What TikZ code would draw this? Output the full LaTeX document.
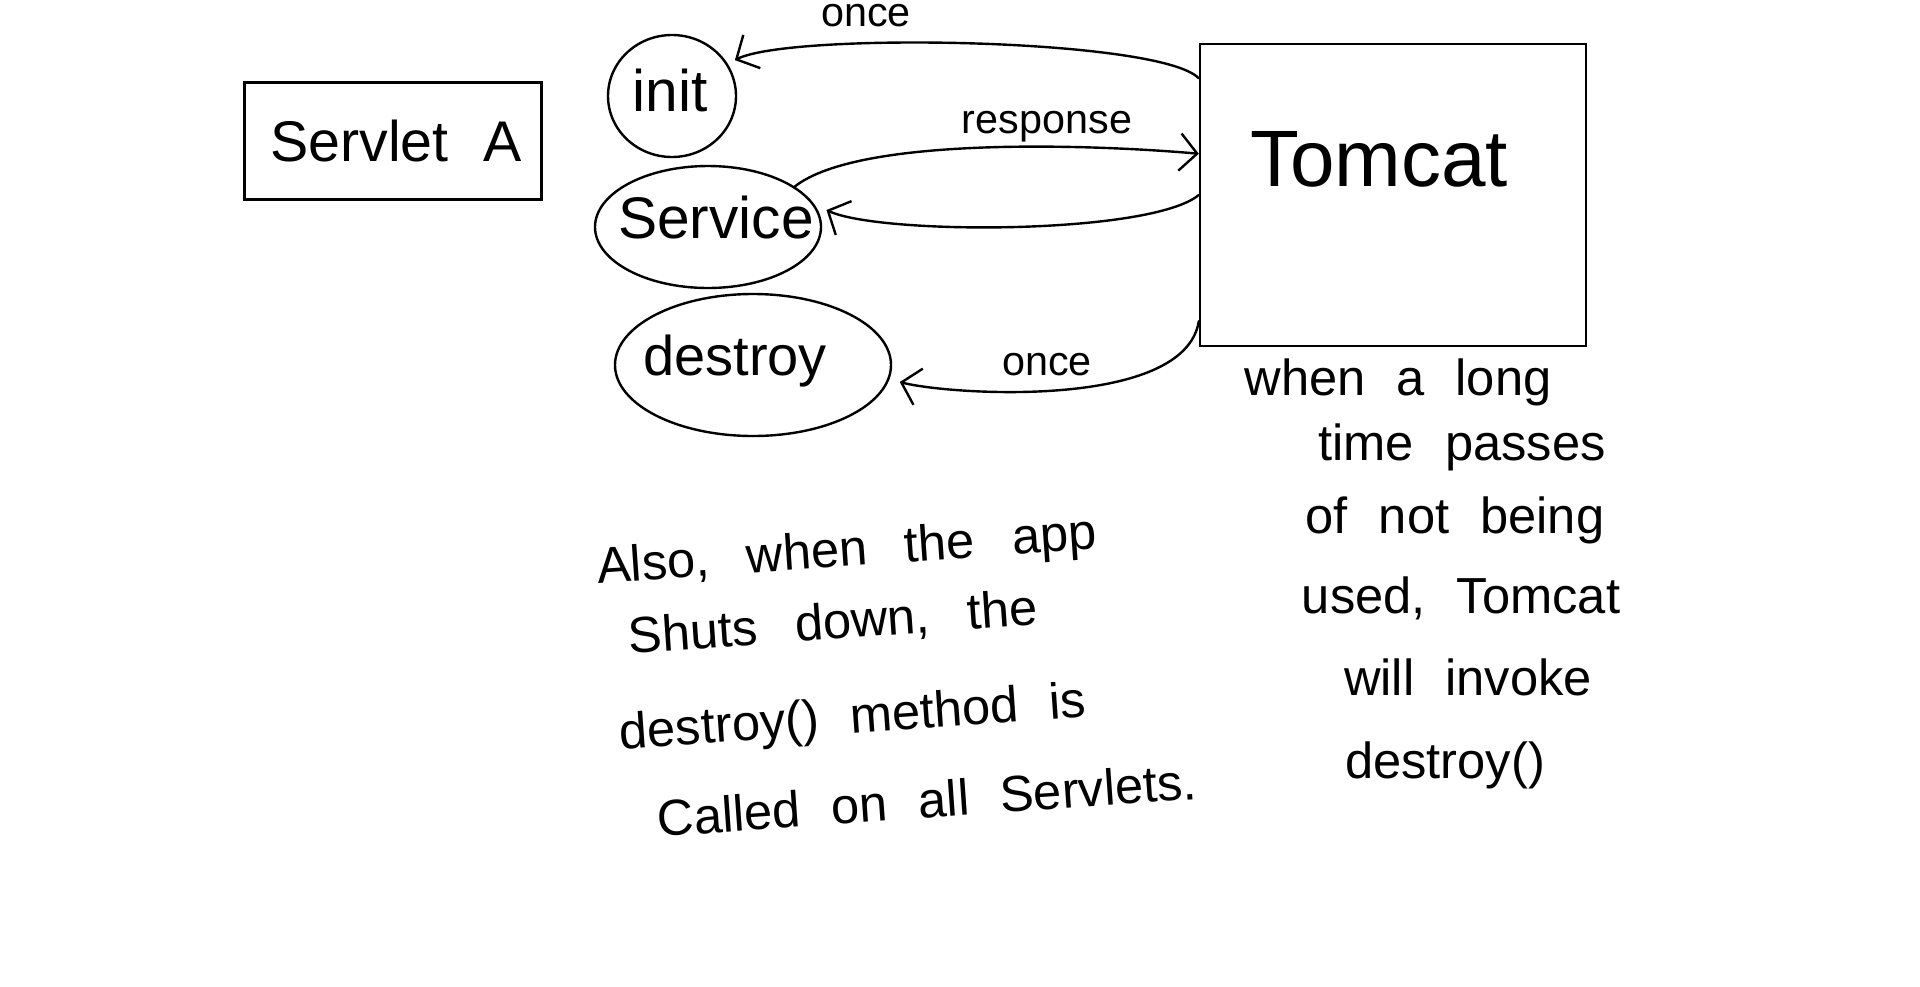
\documentclass[tikz,border=0pt]{standalone}
\usepackage{fontspec}
\setmainfont{Liberation Sans}
\newfontfamily\hand[WordSpace=2.2]{Liberation Sans}
\newcommand\wideskip{\hspace{28pt}}
\usetikzlibrary{shapes.geometric,arrows.meta}
\begin{document}
\begin{tikzpicture}[x=0.75pt,y=-0.75pt, line width=1.8pt,
  box/.style={draw, rectangle, inner sep=0pt},
  oval/.style={draw, ellipse, inner sep=0pt},
  txt/.style={inner sep=0pt, anchor=center},
  lbl/.style={txt, font=\hand\fontsize{31}{37}\selectfont},
  body/.style={txt, font=\hand\fontsize{38}{46}\selectfont},
  conn/.style={-{Straight Barb[length=13pt,width=28pt]}, line cap=round, line join=round}]
\useasboundingbox (0,0) rectangle (1920,986);

% boxes and ovals
\node[box, minimum width=222.75pt, minimum height=87.75pt] (servA) at (393,141) {};
\node[txt, font=\hand\fontsize{43}{50}\selectfont] (servAtxt) at (396,141) {Servlet A};

\node[box, minimum width=289.5pt, minimum height=226.5pt] (tomcat) at (1393,195) {};
\node[txt, font=\hand\fontsize{60}{70}\selectfont] (tomcattxt) at (1379,159) {Tomcat};

\node[oval, minimum width=96pt, minimum height=91.5pt] (init) at (672,96) {};
\node[txt, font=\hand\fontsize{44}{50}\selectfont] (inittxt) at (670,90) {init};

\node[oval, minimum width=169.5pt, minimum height=91.5pt] (service) at (708,227) {};
\node[txt, font=\hand\fontsize{44}{50}\selectfont] (servicetxt) at (716,218) {Service};

\node[oval, minimum width=207pt, minimum height=106.5pt] (destroy) at (753,365) {};
\node[txt, font=\hand\fontsize{42}{50}\selectfont] (destroytxt) at (735,361) {destroy};

% connectors
\draw[conn, shorten >=6pt] (tomcat.149) .. controls (1160,38) and (790,32) .. (init.30);
\draw[conn] (service.25) .. controls (860,135) and (1100,145) .. (tomcat.168);
\draw[conn, shorten >=10pt] (tomcat.180) .. controls (1150,235) and (880,235) .. (service.12);
\draw[conn, shorten >=8pt] (tomcat.213) .. controls (1185,410) and (950,395) .. (destroy.-6);

% connector labels
\node[lbl, anchor=north] (once1) at (866,3) {once};
\node[lbl] (resp) at (1047,127) {response};
\node[lbl] (once2) at (1047,365) {once};

% right notes
\node[body] (r1) at (1398,382) {when a long};
\node[body] (r2) at (1462,447) {time passes};
\node[body] (r3) at (1455,520) {of not being};
\node[body] (r4) at (1461,598) {used, Tomcat};
\node[body] (r5) at (1468,677) {will invoke};
\node[body] (r6) at (1445,765) {destroy()};

% left notes
\node[body, rotate=4] (l1) at (847,553) {Also,\wideskip when\wideskip the\wideskip app};
\node[body, rotate=4] (l2) at (833,624) {Shuts\wideskip down,\wideskip the};
\node[body, rotate=4] (l3) at (853,720) {destroy() method is};
\node[body, rotate=4] (l4) at (927,800) {Called on all Servlets.};
\end{tikzpicture}
\end{document}
